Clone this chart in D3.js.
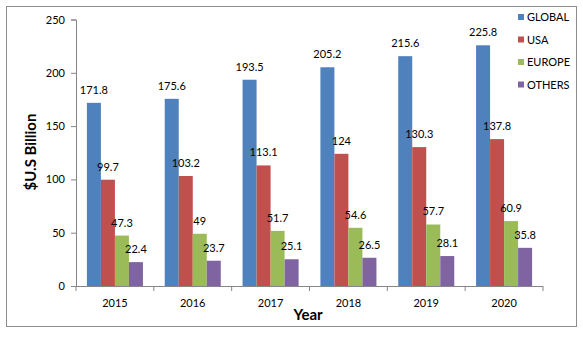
<!DOCTYPE html>
<html>
<head>
<meta charset="utf-8">
<script src="https://cdn.jsdelivr.net/npm/d3@7"></script>
<style>
  body { margin: 0; background: #fff; }
  svg text { font-family: Lato, "Liberation Sans", sans-serif; fill: #000; }
</style>
</head>
<body>
<div class="chartBox"></div>
<script>
var years = ['2015', '2016', '2017', '2018', '2019', '2020'];
var seriesNames = ['GLOBAL', 'USA', 'EUROPE', 'OTHERS'];
var globalVals = [171.8, 175.6, 193.5, 205.2, 215.6, 225.8];
var usaVals = [99.7, 103.2, 113.1, 124, 130.3, 137.8];
var europeVals = [47.3, 49, 51.7, 54.6, 57.7, 60.9];
var othersVals = [22.4, 23.7, 25.1, 26.5, 28.1, 35.8];
var yTicks = [0, 50, 100, 150, 200, 250];
var colors = ['#4F81BD', '#C0504D', '#9BBB59', '#8064A2'];

var allVals = [globalVals, usaVals, europeVals, othersVals];

var W = 583, H = 342;
var svg = d3.select('.chartBox')
    .append('svg')
    .attr('width', W)
    .attr('height', H);

// outer frame
svg.append('rect')
    .attr('x', 6.5).attr('y', 6.5)
    .attr('width', 570).attr('height', 320)
    .attr('fill', 'none')
    .attr('stroke', '#8c8c8c');

var plotLeft = 76, plotRight = 543, plotTop = 19.5, plotBottom = 286;

var x = d3.scaleBand().domain(years).range([plotLeft, plotRight]).paddingInner(0.28).paddingOuter(0.14);
var xs = d3.scaleBand().domain(seriesNames).range([0, x.bandwidth()]);
var y = d3.scaleLinear().domain([0, 250]).range([plotBottom, plotTop]);

// y axis
var yAxis = svg.append('g')
    .attr('transform', 'translate(' + plotLeft + ',0)')
    .call(d3.axisLeft(y).tickValues(yTicks).tickSize(5).tickPadding(6));
yAxis.selectAll('text').style('font-size', '11px');

// x axis with ticks between categories
var xAxis = svg.append('g')
    .attr('transform', 'translate(0,' + plotBottom + ')');
xAxis.append('line')
    .attr('x1', plotLeft).attr('x2', plotRight)
    .attr('y1', 0.5).attr('y2', 0.5);
var step = (plotRight - plotLeft) / years.length;
xAxis.selectAll('.tk')
    .data(d3.range(years.length + 1))
    .enter().append('line')
    .attr('class', 'tk')
    .attr('x1', d => plotLeft + d * step).attr('x2', d => plotLeft + d * step)
    .attr('y1', 0).attr('y2', 5);
xAxis.selectAll('.lbl')
    .data(years)
    .enter().append('text')
    .attr('class', 'lbl')
    .attr('x', d => x(d) + x.bandwidth() / 2)
    .attr('y', 21)
    .attr('text-anchor', 'middle')
    .style('font-size', '11px')
    .text(d => d);

svg.selectAll('.domain, .tick line, g line').attr('stroke', '#868686');

// bars and value labels
seriesNames.forEach(function (name, si) {
    var g = svg.append('g');
    var vals = allVals[si];
    g.selectAll('rect')
        .data(vals)
        .enter().append('rect')
        .attr('x', (d, i) => x(years[i]) + xs(name))
        .attr('y', d => y(d))
        .attr('width', xs.bandwidth())
        .attr('height', d => plotBottom - y(d))
        .attr('fill', colors[si]);
    g.selectAll('text')
        .data(vals)
        .enter().append('text')
        .attr('x', (d, i) => x(years[i]) + xs(name) + xs.bandwidth() / 2)
        .attr('y', d => y(d) - 9)
        .attr('text-anchor', 'middle')
        .style('font-size', '11px')
        .text(d => d);
});

// legend
var legend = svg.selectAll('.leg')
    .data(seriesNames)
    .enter().append('g')
    .attr('class', 'leg')
    .attr('transform', (d, i) => 'translate(518,' + (17 + i * 22.5) + ')');
legend.append('rect')
    .attr('x', 0).attr('y', -3)
    .attr('width', 6).attr('height', 6)
    .attr('fill', (d, i) => colors[i]);
legend.append('text')
    .attr('x', 9).attr('y', 4)
    .style('font-size', '11px')
    .text(d => d);

// axis titles
svg.append('text')
    .attr('transform', 'translate(36,152) rotate(-90)')
    .attr('text-anchor', 'middle')
    .style('font-size', '15px')
    .style('font-weight', 'bold')
    .text('$U.S Billion');

svg.append('text')
    .attr('x', 308).attr('y', 320)
    .attr('text-anchor', 'middle')
    .style('font-size', '15px')
    .style('font-weight', 'bold')
    .text('Year');
</script>
</body>
</html>
